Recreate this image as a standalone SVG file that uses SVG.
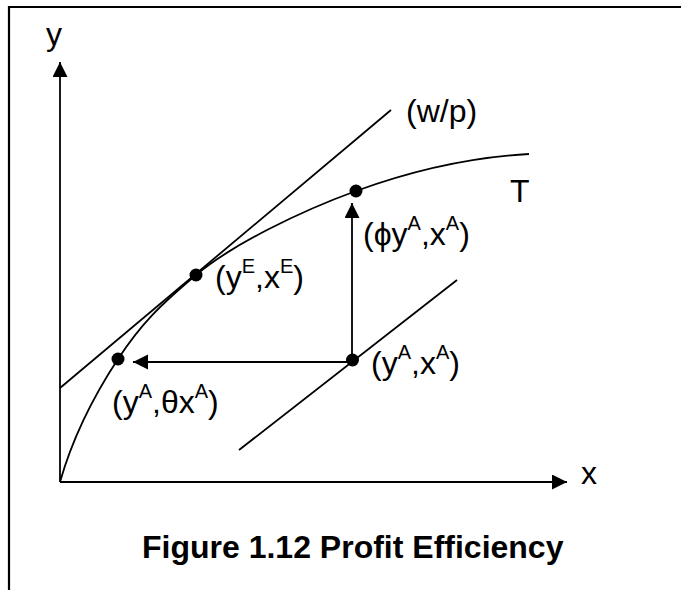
<svg xmlns="http://www.w3.org/2000/svg" width="681" height="590" viewBox="0 0 681 590">
<defs>
<style>
.t{font-family:"Liberation Sans",Arial,sans-serif;font-size:32px;fill:#000}
.s{font-size:20px}
.cap{font-family:"Liberation Sans",Arial,sans-serif;font-size:32px;font-weight:bold;fill:#000}
.ln{stroke:#000;stroke-width:1.8;fill:none}
.dot{fill:#000}
</style>
<marker id="ah" markerUnits="userSpaceOnUse" markerWidth="16" markerHeight="16" refX="15" refY="7.5" orient="auto">
<path d="M0,0 L15,7.5 L0,15 z" fill="#000"/>
</marker>
</defs>
<rect width="681" height="590" fill="#fff"/>
<path d="M9,590 L9,7 L681,7" stroke="#000" stroke-width="2.2" fill="none"/>
<g id="connectors">
<line class="ln" x1="60" y1="482" x2="60" y2="62" marker-end="url(#ah)"/>
<line class="ln" x1="60" y1="482" x2="567" y2="482" marker-end="url(#ah)"/>
<line class="ln" x1="60" y1="388" x2="391" y2="110"/>
<line class="ln" x1="239" y1="450" x2="457" y2="280"/>
<path class="ln" d="M60,482 C73.3,435.3 95.3,393.5 118,359 C140.7,324.5 159.3,305.8 196,275 C232.7,244.2 300.5,211.2 356,191 C411.5,170.8 469,157.3 529,154"/>
<line class="ln" x1="352" y1="362" x2="352" y2="203" marker-end="url(#ah)"/>
<line class="ln" x1="352" y1="362" x2="133" y2="362" marker-end="url(#ah)"/>
</g>
<g id="axis-y"><text class="t" x="46" y="45">y</text></g>
<g id="axis-x"><text class="t" x="581" y="484">x</text></g>
<g id="wp"><text class="t" x="406" y="122">(w/p)</text></g>
<g id="T"><text class="t" x="510" y="202">T</text></g>
<g id="pE"><circle class="dot" cx="196" cy="275" r="6.5"/><text class="t" x="215" y="288">(y<tspan class="s" dy="-15">E</tspan><tspan dy="15">,x</tspan><tspan class="s" dy="-15">E</tspan><tspan dy="15">)</tspan></text></g>
<g id="pPhi"><circle class="dot" cx="356" cy="191" r="6.5"/><text class="t" x="363" y="245">(ϕy<tspan class="s" dy="-15">A</tspan><tspan dy="15">,x</tspan><tspan class="s" dy="-15">A</tspan><tspan dy="15">)</tspan></text></g>
<g id="pA"><circle class="dot" cx="352.5" cy="360" r="6.5"/><text class="t" x="371" y="374">(y<tspan class="s" dy="-15">A</tspan><tspan dy="15">,x</tspan><tspan class="s" dy="-15">A</tspan><tspan dy="15">)</tspan></text></g>
<g id="pTheta"><circle class="dot" cx="118" cy="359" r="6.5"/><text class="t" x="112" y="413">(y<tspan class="s" dy="-15">A</tspan><tspan dy="15">,θx</tspan><tspan class="s" dy="-15">A</tspan><tspan dy="15">)</tspan></text></g>
<g id="caption"><text class="cap" x="142" y="558">Figure 1.12 Profit Efficiency</text></g>
</svg>
